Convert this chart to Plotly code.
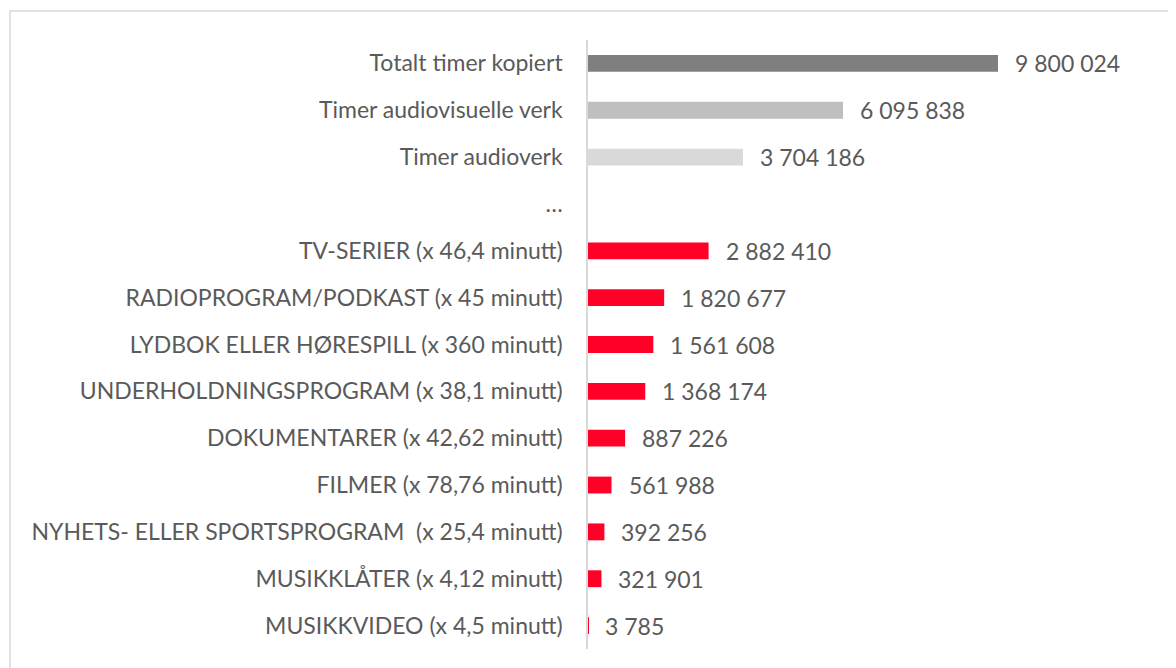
import plotly.graph_objects as go

categories = [
    "Totalt timer kopiert",
    "Timer audiovisuelle verk",
    "Timer audioverk",
    "…",
    "TV-SERIER (x 46,4 minutt)",
    "RADIOPROGRAM/PODKAST (x 45 minutt)",
    "LYDBOK ELLER HØRESPILL (x 360 minutt)",
    "UNDERHOLDNINGSPROGRAM (x 38,1 minutt)",
    "DOKUMENTARER (x 42,62 minutt)",
    "FILMER (x 78,76 minutt)",
    "NYHETS- ELLER SPORTSPROGRAM  (x 25,4 minutt)",
    "MUSIKKLÅTER (x 4,12 minutt)",
    "MUSIKKVIDEO (x 4,5 minutt)",
]
values = [9800024, 6095838, 3704186, None, 2882410, 1820677, 1561608,
          1368174, 887226, 561988, 392256, 321901, 3785]
value_labels = ["9 800 024", "6 095 838", "3 704 186", "", "2 882 410", "1 820 677",
                "1 561 608", "1 368 174", "887 226", "561 988", "392 256", "321 901", "3 785"]
colors = ["#7f7f7f", "#bfbfbf", "#d9d9d9", "#ffffff"] + ["#ff0029"] * 9

OFF = 8  # page body margin
W, H = 1176, 668
L, R, T, B = 588 - OFF, 16, 40 - OFF, 19 + OFF
plot_w = W - L - R
plot_h = H - T - B
xmax = 9800024 * plot_w / 410.0

FONT = "Lato"
TXT = "#5a5a5a"
FS = 23

fig = go.Figure()
fig.add_trace(go.Bar(
    y=categories, x=[v if v is not None else 0 for v in values],
    orientation="h", marker=dict(color=colors, line=dict(width=0)),
    width=0.36, hoverinfo="skip", showlegend=False,
))

for c, v, t in zip(categories, values, value_labels):
    if v is None:
        continue
    fig.add_annotation(x=v, y=c, text=t, showarrow=False, xanchor="left",
                       xshift=15, font=dict(family=FONT, size=FS, color=TXT))

bx, by = 10 - OFF, 11 - OFF
fig.add_shape(type="rect", xref="paper", yref="paper",
              x0=(bx - L) / plot_w, x1=(W + 20 - L) / plot_w,
              y0=(H - B - (H + 20)) / plot_h, y1=(H - B - by) / plot_h,
              line=dict(color="#d9d9d9", width=1.5), fillcolor="rgba(0,0,0,0)", layer="below")

fig.update_layout(
    width=W, height=H,
    margin=dict(l=L, r=R, t=T, b=B, autoexpand=False),
    paper_bgcolor="white", plot_bgcolor="white",
    xaxis=dict(range=[0, xmax], showgrid=False, zeroline=False, showticklabels=False,
               showline=False, fixedrange=True),
    yaxis=dict(type="category", categoryorder="array", categoryarray=categories,
               autorange="reversed", showgrid=False, zeroline=False,
               showline=True, linecolor="#d9d9d9", linewidth=1.5,
               ticks="", ticklabelstandoff=19,
               tickfont=dict(family=FONT, size=FS, color=TXT)),
    font=dict(family=FONT, color=TXT),
)

fig.write_html("out.html")
